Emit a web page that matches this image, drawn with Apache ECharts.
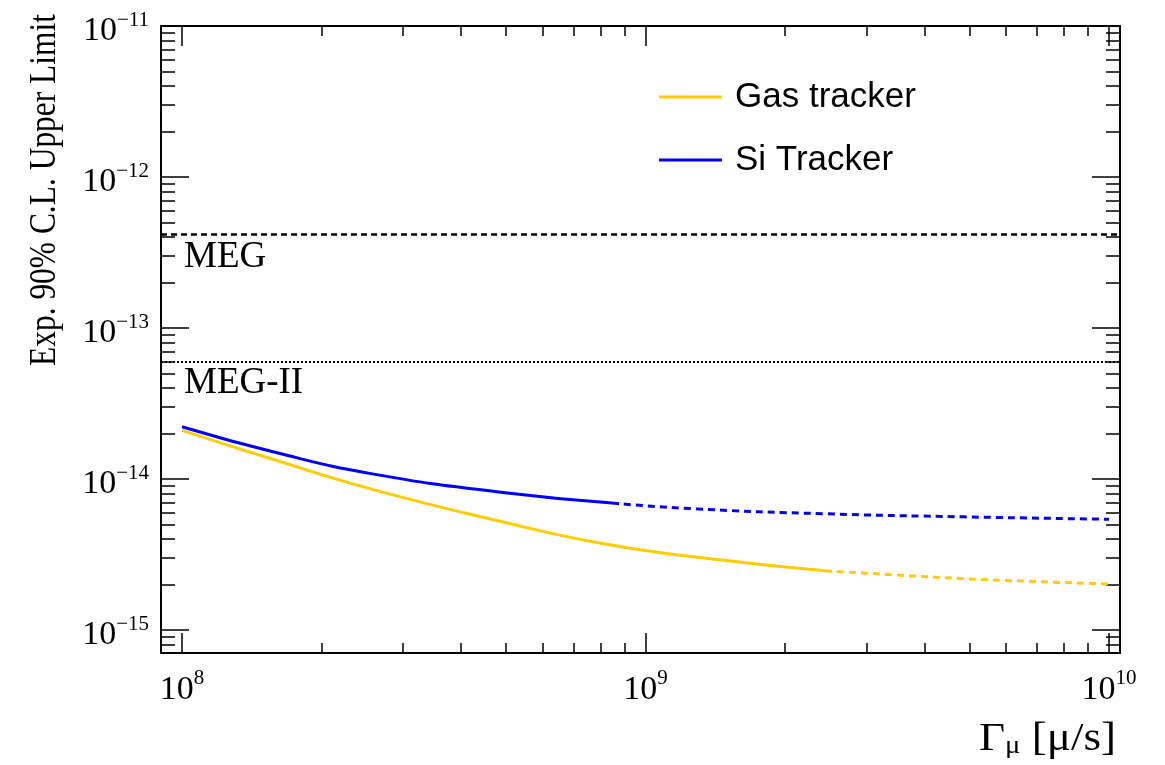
<!DOCTYPE html>
<html><head><meta charset="utf-8">
<script src="https://cdn.jsdelivr.net/npm/echarts@6/dist/echarts.min.js"></script>
<style>html,body{margin:0;padding:0;background:#fff}#c{width:1165px;height:765px}</style>
</head><body><div id="c"></div>
<script>
// ---- data (Γμ in 1/s, expected 90% CL upper limit) ----
const gasSolidX = [1e8, 1.587e8, 2.61e8, 4.98e8, 8.18e8, 1.41e9, 2.44e9];
const gasSolidY = [2.10e-14, 1.337e-14, 8.45e-15, 5.16e-15, 3.715e-15, 2.94e-15, 2.47e-15];
const gasDashX = [2.44e9, 3.54e9, 5.19e9, 1e10];
const gasDashY = [2.47e-15, 2.31e-15, 2.17e-15, 2.02e-15];
const siSolidX = [1e8, 1.587e8, 2.61e8, 4.98e8, 8.47e8];
const siSolidY = [2.22e-14, 1.503e-14, 1.074e-14, 8.11e-15, 6.93e-15];
const siDashX = [8.47e8, 1.28e9, 2.44e9, 4.86e9, 1e10];
const siDashY = [6.93e-15, 6.35e-15, 5.89e-15, 5.62e-15, 5.42e-15];
const refNames = ['MEG', 'MEG-II'];
const refValues = [4.2e-13, 6.0e-14];
const seriesNames = ['Gas tracker', 'Si Tracker'];
const xTickExps = [8, 9, 10];
const yTickExps = [-15, -14, -13, -12, -11];
const minorMults = [2, 3, 4, 5, 6, 7, 8, 9];
const xRange = [9.01e7, 1.056e10];
const yRange = [7.05e-16, 1e-11];

const L = Math.log10;
function minors(lo, hi) {
  const out = [];
  for (let e = Math.floor(lo) - 1; e <= Math.ceil(hi); e++) {
    minorMults.forEach(k => { const v = e + L(k); if (v > lo && v < hi) out.push(v); });
  }
  return out;
}
const pts = (xs, ys) => xs.map((x, i) => [L(x), L(ys[i])]);
const xMin = L(xRange[0]), xMax = L(xRange[1]);
const yMin = L(yRange[0]), yMax = L(yRange[1]);
const xMinor = minors(xMin, xMax), yMinor = minors(yMin, yMax);

const SERIF = 'Liberation Serif';
const xRich = {
  b: {fontFamily: SERIF, fontSize: 34, color: '#000', padding: [5, 0, 0, 0], verticalAlign: 'bottom'},
  s: {fontFamily: SERIF, fontSize: 21, color: '#000', verticalAlign: 'top'}
};
const yRich = {
  b: {fontFamily: SERIF, fontSize: 34, color: '#000', padding: [11, 0, 0, 0], verticalAlign: 'bottom'},
  s: {fontFamily: SERIF, fontSize: 21, color: '#000', padding: [6, 0, 0, 0], verticalAlign: 'top'}
};
const fmt = v => { const n = Math.round(v); return '{b|10}{s|' + (n < 0 ? '\u2212' + (-n) : n) + '}'; };
const axLine = {show: true, lineStyle: {color: '#000', width: 2}};
const tickStyle = {color: '#000', width: 1.5};

function mkX(position, major) {
  return {
    type: 'value', position, min: xMin, max: xMax, gridIndex: 0,
    axisLine: major ? axLine : {show: false},
    axisTick: {show: true, inside: true, length: major ? 20 : 10, customValues: major ? xTickExps : xMinor, lineStyle: tickStyle},
    axisLabel: (major && position === 'bottom') ? {show: true, customValues: xTickExps, formatter: fmt, rich: xRich, margin: 15} : {show: false},
    splitLine: {show: false}, minorTick: {show: false}
  };
}
function mkY(position, major) {
  return {
    type: 'value', position, min: yMin, max: yMax, gridIndex: 0,
    axisLine: major ? axLine : {show: false},
    axisTick: {show: true, inside: true, length: major ? 28 : 14, customValues: major ? yTickExps : yMinor, lineStyle: tickStyle},
    axisLabel: (major && position === 'left') ? {show: true, customValues: yTickExps, formatter: fmt, rich: yRich, margin: 12} : {show: false},
    splitLine: {show: false}, minorTick: {show: false}
  };
}

const GOLD = '#ffcc00', BLUE = '#0000ff';
const refStyles = [{type: [6, 4], width: 2.5}, {type: [2, 2], width: 2}];
const curve = {type: 'line', showSymbol: false, smooth: 0.5};

const option = {
  animation: false,
  backgroundColor: '#fff',
  grid: {left: 161, top: 26, width: 959, height: 627, containLabel: false, outerBoundsMode: 'none'},
  xAxis: [mkX('bottom', true), mkX('bottom', false), mkX('top', true), mkX('top', false)],
  yAxis: [mkY('left', true), mkY('left', false), mkY('right', true), mkY('right', false)],
  legend: {
    data: seriesNames, orient: 'vertical', left: 654, top: 72, itemWidth: 63, itemHeight: 3,
    icon: 'rect', itemGap: 23, selectedMode: false,
    textStyle: {fontFamily: 'Liberation Sans', fontSize: 35, color: '#000', lineHeight: 40, padding: [0, 0, 0, 8]}
  },
  series: [
    Object.assign({name: seriesNames[0], data: pts(gasSolidX, gasSolidY), color: GOLD,
     lineStyle: {color: GOLD, width: 3}, z: 3,
     markLine: {silent: true, symbol: 'none', animation: false,
       data: refNames.map((n, i) => ({yAxis: L(refValues[i]), name: n,
         lineStyle: {color: '#000', type: refStyles[i].type, width: refStyles[i].width},
         label: {show: true, formatter: n, position: 'insideStartBottom', distance: [23, 4],
                 fontFamily: SERIF, fontSize: 37, color: '#000'}}))}}, curve),
    Object.assign({name: 'gasDash', data: pts(gasDashX, gasDashY), color: GOLD,
     lineStyle: {color: GOLD, width: 3, type: [7, 5]}, z: 3}, curve),
    Object.assign({name: seriesNames[1], data: pts(siSolidX, siSolidY), color: BLUE,
     lineStyle: {color: BLUE, width: 3}, z: 4}, curve),
    Object.assign({name: 'siDash', data: pts(siDashX, siDashY), color: BLUE,
     lineStyle: {color: BLUE, width: 3, type: [7, 5]}, z: 4}, curve)
  ],
  graphic: [
    {type: 'text', x: 45, y: 190, rotation: Math.PI / 2, scaleX: 0.85, scaleY: 1,
     style: {text: 'Exp. 90% C.L. Upper Limit', fontFamily: SERIF, fontSize: 37, fill: '#000', align: 'center', verticalAlign: 'middle'}},
    {type: 'text', x: 1116, y: 739, scaleX: 1.1,
     style: {text: '{g|\u0393}{sub|\u03bc}{g| [\u03bc/s]}', align: 'right', verticalAlign: 'middle',
       rich: {g: {fontFamily: SERIF, fontSize: 41, lineHeight: 41, padding: [0, 0, 8, 0], fill: '#000', verticalAlign: 'top'},
              sub: {fontFamily: SERIF, fontSize: 26, lineHeight: 26, fill: '#000', verticalAlign: 'bottom'}}}}
  ]
};
const chart = echarts.init(document.getElementById('c'), null, {renderer: 'canvas'});
chart.setOption(option);
</script></body></html>
